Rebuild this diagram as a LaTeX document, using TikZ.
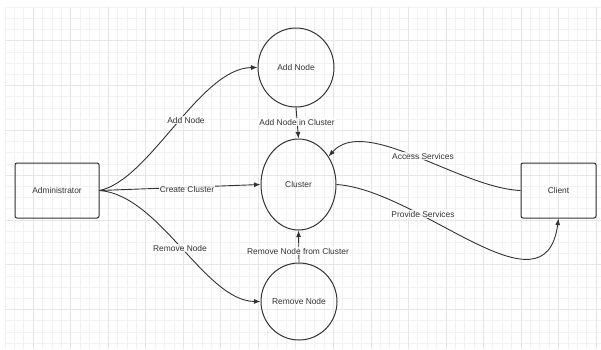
\documentclass[tikz,border=0pt]{standalone}
\usepackage{fontspec}
\setmainfont{Liberation Sans}
\usetikzlibrary{arrows.meta,shapes.geometric}
\definecolor{ink}{HTML}{333333}
\definecolor{gridminor}{HTML}{F2F2F2}
\definecolor{gridmajor}{HTML}{E6E6E6}
\begin{document}
\begin{tikzpicture}[x=1pt,y=-1pt,
  every node/.append style={font=\fontsize{8.4pt}{10pt}\selectfont, text=ink},
  box/.style={draw=ink, line width=1pt, rounded corners=2pt, minimum width=84pt, minimum height=55pt},
  proc/.style={draw=ink, line width=1pt, ellipse, inner sep=0pt},
  flow/.style={draw=ink, line width=0.9pt, -{Latex[length=6.5pt,width=5pt]}},
  lbl/.style={fill=white, fill opacity=0.8, text opacity=1, inner sep=1pt}
]
\useasboundingbox (0,0) rectangle (601,349);
\fill[white] (0,0) rectangle (601,349);
% grid
\foreach \k in {0,...,63} \draw[gridminor, line width=0.6pt] ({5+9.38*\k},7) -- ({5+9.38*\k},349);
\foreach \k in {0,...,30} \draw[gridminor, line width=0.6pt] (5,{7+11.2*\k}) -- (601,{7+11.2*\k});
\foreach \k in {3,7,...,63} \draw[gridmajor, line width=0.6pt] ({5+9.38*\k},7) -- ({5+9.38*\k},349);
\foreach \k in {3,7,...,30} \draw[gridmajor, line width=0.6pt] (5,{7+11.2*\k}) -- (601,{7+11.2*\k});

% nodes
\node[box] (admin) at (57,190.5) {Administrator};
\node[box, minimum width=75pt] (client) at (558.5,190.5) {Client};
\node[proc, minimum width=76pt, minimum height=79pt] (add) at (296,67.5) {Add Node};
\node[proc, minimum width=75pt, minimum height=91pt] (cluster) at (298.5,184.5) {Cluster};
\node[proc, minimum width=76pt, minimum height=77pt] (remove) at (299,301.5) {Remove Node};

% connectors
\draw[flow] (admin.east) .. controls (150,180) and (200,68) .. (add.west);
\draw[flow] (admin.east) -- (cluster.west);
\draw[flow] (admin.east) .. controls (160,195) and (205,301) .. (remove.west);
\draw[flow] (add.south) -- (cluster.north);
\draw[flow] (remove.north) -- (cluster.south);
\draw[flow] (client.west) .. controls (460,188) and (365,115) .. (cluster.43);
\draw[flow] (cluster.east) .. controls (420,190) and (545,320) .. (client.south);

% labels
\node[lbl] (l1) at (186,120) {Add Node};
\node[lbl] (l2) at (187,189) {Create Cluster};
\node[lbl] (l3) at (180,248) {Remove Node};
\node[lbl] (l4) at (297,122) {Add Node in Cluster};
\node[lbl] (l5) at (298,251) {Remove Node from Cluster};
\node[lbl] (l6) at (423,156) {Access Services};
\node[lbl] (l7) at (423,214) {Provide Services};
\end{tikzpicture}
\end{document}
